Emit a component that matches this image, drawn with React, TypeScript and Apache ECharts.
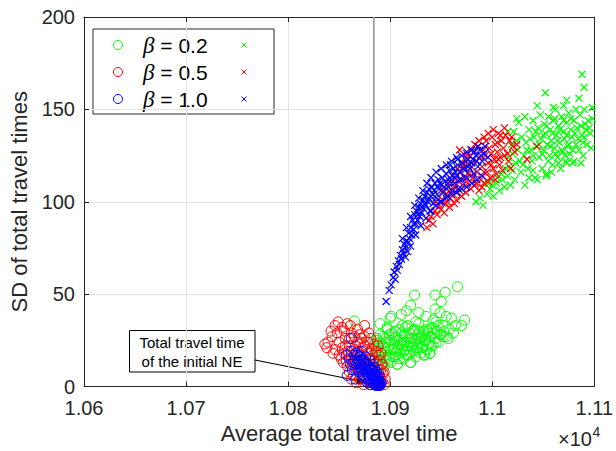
import React, { useEffect, useRef } from 'react';
import * as echarts from 'echarts';

const X_MIN = 10600;
const X_MAX = 11100;
const X_STEP = 100;
const Y_MIN = 0;
const Y_MAX = 200;
const Y_STEP = 50;
const NE_TIME = 10884;

const betaLabels = ['0.2', '0.5', '1.0'];
const betaColors = ['#00ff00', '#ff0000', '#0000ff'];

const xTitle = 'Average total travel time';
const yTitle = 'SD of total travel times';
const noteLines = ['Total travel time', 'of the initial NE'];

type P = [number, number];

// circles (o) for each beta
const greenCircles: P[] = [
  [10886,18],[10887,25],[10888,14],[10889,21],[10890,28],[10891,16],[10892,23],[10893,12],[10894,19],[10895,26],
  [10896,15],[10897,31],[10898,21],[10899,17],[10900,25],[10901,13],[10902,29],[10903,20],[10904,23],[10905,16],
  [10906,27],[10907,12],[10908,21],[10909,31],[10910,18],[10911,25],[10912,22],[10913,15],[10914,28],[10915,20],
  [10916,24],[10917,33],[10918,17],[10919,26],[10920,13],[10921,22],[10922,30],[10923,19],[10924,25],[10925,16],
  [10926,28],[10927,21],[10928,34],[10929,24],[10930,18],[10931,27],[10932,22],[10933,30],[10934,17],[10935,25],
  [10936,20],[10937,29],[10938,23],[10939,18],[10940,27],[10941,32],[10942,22],[10944,26],[10946,30],[10948,24],
  [10950,28],[10952,33],[10955,27],[10958,31],
  [10966,54],[10954,51],[10944,49.5],[10950,46],[10924,49.5],[10916,41],[10928,40],[10911,39],[10944,42],[10955,38],
  [10973,36],[10964,33],[10952,27],[10962,29],[10900,37],[10897,32],[10939,18],[10933,17],[10887,26],[10907,12],
  [10894,11],[10920,13],[10865,35.5],[10890,34],[10960,37],[10970,33],[10945,35],[10935,38],[10949,40],[10920,44],
  [10901,38],[10891,12],[10937,30],[10930,26],
  [10885,22],[10888,19],[10890,24],[10892,18],[10893,27],[10895,21],[10897,24],[10898,14],[10899,28],[10901,20],
  [10903,16],[10904,26],[10905,30],[10906,19],[10908,25],[10909,15],[10910,23],[10911,29],[10913,19],[10914,24],
  [10915,32],[10916,17],[10917,22],[10919,29],[10920,19],[10921,26],[10923,23],[10924,31],[10926,21],[10927,26],
  [10929,30],[10931,21],[10932,28],[10934,25],[10936,31],[10938,27],[10940,22],[10943,29],[10945,24],[10947,33],
  [10949,28],[10953,30],[10957,26],[10942,36],[10925,35],[10912,33]
];

const redCircles: P[] = [
  [10846,33],[10839,24],[10836,23],[10853,32],[10848,29],[10858,34],[10868,31],[10875,27],[10846,20],[10853,21],
  [10852,15],[10858,11],[10862,17],[10868,24],[10875,22],[10875,33],[10843,27],[10856,26],[10862,29],[10850,24],
  [10865,20],[10870,28],[10860,22],[10866,13],[10855,18],[10871,17],[10878,24],[10882,20],[10880,15],[10860,8],
  [10864,6],[10870,4],[10873,9],[10876,3],[10879,6],[10882,10],[10884,14],[10886,8],[10888,12],[10890,5],
  [10891,9],[10892,3],[10893,7],[10894,1],[10889,17],[10885,4],[10877,12],[10872,14],[10868,10],[10883,2],
  [10887,1],[10880,1],[10874,1],[10867,2],[10863,12],[10886,19],[10890,14],[10878,18],[10873,21],[10869,19],
  [10881,26],[10884,23],[10857,14],[10891,2],[10895,4],[10888,22],
  [10842,30],[10849,35],[10855,30],[10861,33],[10865,27],[10871,24],[10838,21],[10844,18],[10850,17],[10856,22],
  [10860,26],[10866,22],[10872,26],[10877,20],[10879,29],[10883,17],[10886,13],[10889,9],[10892,12],[10894,8],
  [10891,18],[10888,6],[10885,1.5],[10878,8],[10874,5],[10870,8],[10866,16],[10862,4],[10859,19],[10854,13]
];

const blueCircles: P[] = [
  [10862,26],[10858,6],[10857,17],[10860,15],[10862,19],[10864,13],[10865,17],[10866,10],[10867,18],[10868,14],
  [10869,8],[10870,16],[10871,12],[10872,19],[10873,6],[10874,14],[10875,10],[10876,16],[10877,4],[10878,12],
  [10879,8],[10880,14],[10880,3],[10881,10],[10882,6],[10883,12],[10883,2],[10884,8],[10884,4],[10885,10],
  [10885,1],[10886,6],[10886,3],[10887,8],[10887,1],[10888,4],[10888,2],[10889,6],[10889,0.5],[10890,3],
  [10890,1],[10886,0.5],[10888,0.5],[10887,5],[10885,7],[10882,9],[10879,11],[10876,13],[10873,15],[10871,16],
  [10868,17],[10875,5],[10878,2],[10881,1],[10883,5],[10889,3],[10891,2],[10863,9],[10866,4],[10870,11],
  [10870,14],[10872,10],[10874,12],[10876,8],[10878,6],[10880,9],[10882,4],[10884,2],[10886,1.5],[10887,3],
  [10889,1.5],[10890,0.5],[10884,6],[10881,7],[10879,4],[10877,9],[10875,13],[10873,11],[10871,9],[10869,13],
  [10867,12],[10865,14],[10883,9],[10885,4],[10861,12]
];

// crosses (x) for each beta
const greenCrosses: P[] = [
  [10984,100],[10988,102],[10991,98],[10995,104],[10998,107],[11001,103],[11004,110],[11007,106],[11010,112],[11012,108],
  [11015,114],[11018,109],[11020,117],[11022,112],
  [11016,124],[11019,131],[11021,138],[11023,121],[11025,128],[11026,143],[11028,116],[11029,135],[11031,125],[11032,146],
  [11033,132],[11035,118],[11036,139],[11038,128],[11039,122],[11040,144],[11041,135],[11042,113],[11043,130],[11045,140],
  [11046,124],[11047,147],[11048,134],[11049,118],[11050,128],[11051,142],[11052,137],[11053,115],[11054,131],[11055,146],
  [11056,125],[11057,139],[11058,133],[11059,120],[11060,144],[11061,129],[11062,150],[11063,136],[11064,124],[11065,141],
  [11066,132],[11067,118],[11068,146],[11069,127],[11070,138],[11071,134],[11072,122],[11073,143],[11074,130],[11075,148],
  [11076,126],[11077,139],[11078,135],[11079,121],[11080,144],[11082,131],[11083,140],[11085,128],[11086,147],[11088,136],
  [11089,132],[11091,142],[11092,139],[11094,144],[11096,137],
  [11088,169],[11090,162],[11052,159],[11073,155],[11085,156],[11044,152],[11060,151],[11070,152],[11053,114],[11073,121],
  [11080,122],[11087,121],[11044,112],[11032,109],[11097,129],[11089,125],[11015,138],[11024,145],
  [11030,120],[11034,128],[11037,134],[11040,125],[11043,138],[11046,131],[11049,126],[11050,136],[11053,141],[11055,122],
  [11057,130],[11059,137],[11061,145],[11062,126],[11064,133],[11066,139],[11068,128],[11070,144],[11071,125],[11073,136],
  [11075,131],[11077,145],[11079,128],[11081,137],[11084,134],[11087,141],[11090,135],[11093,131],[11095,140],[11098,145],
  [11027,122],[11024,133],[11020,126],[11017,119],[11013,118],[11009,115],[11005,113],[11000,109],[10996,110],[11036,113],
  [11040,117],[11058,116],[11065,121],[11090,150],[11098,151],[11082,150]
];

const redCrosses: P[] = [
  [10936,86],[10938,90],[10940,92],[10942,88],[10944,95],[10946,93],[10948,98],[10950,96],[10951,101],[10953,99],
  [10955,104],[10956,100],[10958,106],[10959,102],[10960,110],[10962,104],[10963,108],[10964,113],[10965,101],[10967,111],
  [10968,106],[10969,116],[10970,103],[10971,109],[10972,119],[10973,113],[10974,105],[10975,122],[10976,110],[10977,116],
  [10978,125],[10979,107],[10980,119],[10981,113],[10982,127],[10983,109],[10984,122],[10985,116],[10986,130],[10987,106],
  [10988,124],[10989,112],[10990,119],[10991,128],[10992,110],[10993,125],[10994,133],[10995,116],[10996,121],[10997,129],
  [10998,113],[10999,126],[11000,135],[11001,118],[11002,123],[11003,131],[11004,115],[11005,127],[11006,137],[11007,120],
  [11008,124],[11009,133],[11010,117],[11011,129],[11013,136],[11015,126],[11017,133],[11018,118],[11020,130],[11024,131],
  [11034,123],[11044,130],[11008,136],[10968,128],[10975,126],
  [10945,100],[10952,106],[10957,110],[10961,114],[10966,118],[10970,121],[10974,124],[10979,128],[10983,131],[10987,133],
  [10992,135],[10996,137],[11001,139],[11005,132],[11012,140],[10979,114],[10984,110],[10992,116],[10999,120],[11006,123],
  [11012,125],[11016,122],[11019,135],[11022,127],[10990,108],[10996,111],[11003,112],[10963,99],[10958,97],[10953,94]
];

const blueCrosses: P[] = [
  [10896,46],[10899,52],[10901,55],[10903,59],[10904,62],[10905,58],[10906,65],[10907,63],[10908,68],[10909,66],
  [10910,71],[10911,69],[10912,74],[10913,72],[10914,77],[10915,75],[10916,79],[10917,73],[10918,83],[10919,80],
  [10920,86],[10921,82],[10922,90],[10923,85],[10924,93],[10925,88],[10926,95],[10927,90],[10928,97],[10929,92],
  [10930,99],[10931,94],[10932,101],[10933,96],[10934,103],[10935,98],[10936,105],[10937,100],[10938,107],[10939,95],
  [10940,103],[10941,108],[10942,99],[10943,106],[10944,110],[10945,102],[10946,104],[10947,112],[10948,107],[10949,100],
  [10950,109],[10951,113],[10952,105],[10954,111],[10955,115],[10956,103],[10957,108],[10958,117],[10960,112],[10961,106],
  [10962,118],[10963,110],[10965,114],[10966,120],[10967,107],[10968,116],[10970,112],[10971,121],[10973,117],[10975,113],
  [10976,123],[10978,118],[10980,121],[10982,115],[10984,125],[10986,119],[10988,128],[10990,122],[10993,130],[10996,124],
  [10959,120],[10966,123],[10983,127],
  [10912,80],[10916,86],[10920,92],[10924,98],[10928,102],[10932,106],[10936,110],[10940,113],[10945,116],[10950,118],
  [10955,120],[10960,122],[10965,124],[10970,125],[10975,127],[10980,128],[10986,130],
  [10915,70],[10920,76],[10925,82],[10930,87],[10935,91],[10940,95],[10945,98],[10950,100],[10955,102],[10960,104],
  [10965,105],[10970,107],[10975,108],[10980,110],[10985,112],[10990,114],
  [10918,78],[10923,88],[10927,93],[10931,97],[10934,99],[10938,102],[10942,104],[10946,108],[10949,110],[10953,108],
  [10957,112],[10961,114],[10964,116],[10968,112],[10972,118],[10977,120],[10981,123],[10985,122],[10989,125],[10992,126]
];

const circleSets = [greenCircles, redCircles, blueCircles];
const crossSets = [greenCrosses, redCrosses, blueCrosses];

const FONT = '"Liberation Sans", Arial, Helvetica, sans-serif';
const AXIS_COLOR = '#262626';
const GRID_COLOR = '#e2e2e2';
const CROSS = 'path://M0,0L10,10M10,0L0,10';

export default function App() {
  const ref = useRef<HTMLDivElement>(null);

  useEffect(() => {
    if (!ref.current) return;
    const chart = echarts.init(ref.current, null, { renderer: 'svg' });

    const series: any[] = [
      {
        type: 'line',
        data: [[NE_TIME, Y_MIN], [NE_TIME, Y_MAX]],
        showSymbol: false,
        silent: true,
        lineStyle: { color: '#a0a0a0', width: 1.8 },
        z: 1,
      },
    ];
    for (let i = 0; i < 3; i++) {
      series.push({
        type: 'scatter',
        name: 'o ' + betaLabels[i],
        data: circleSets[i],
        symbol: 'circle',
        symbolSize: 10,
        itemStyle: { color: 'rgba(0,0,0,0)', borderColor: betaColors[i], borderWidth: 1, opacity: 1 },
        silent: true,
      });
      series.push({
        type: 'scatter',
        name: 'x ' + betaLabels[i],
        data: crossSets[i],
        symbol: CROSS,
        symbolSize: 7,
        itemStyle: { color: 'rgba(0,0,0,0)', borderColor: betaColors[i], borderWidth: 1.2, opacity: 1 },
        silent: true,
      });
    }

    const legendChildren: any[] = [
      {
        type: 'rect',
        shape: { x: 93, y: 29, width: 181, height: 85 },
        style: { fill: '#ffffff', stroke: AXIS_COLOR, lineWidth: 1 },
      },
    ];
    betaLabels.forEach((b, i) => {
      const cy = 45 + 27 * i;
      legendChildren.push({
        type: 'circle',
        shape: { cx: 118, cy, r: 4.5 },
        style: { fill: 'none', stroke: betaColors[i], lineWidth: 1 },
      });
      legendChildren.push({
        type: 'text',
        x: 143,
        y: cy,
        style: {
          text: '{g|β} = ' + b,
          rich: { g: { fontStyle: 'italic', fontFamily: '"Liberation Serif", serif', fontSize: 23, fill: '#000' } },
          fontSize: 21,
          fontFamily: FONT,
          fill: '#000',
          align: 'left',
          verticalAlign: 'middle',
        },
      });
      legendChildren.push({
        type: 'line',
        shape: { x1: 241.5, y1: cy - 2.5, x2: 246.5, y2: cy + 2.5 },
        style: { stroke: betaColors[i], lineWidth: 1 },
      });
      legendChildren.push({
        type: 'line',
        shape: { x1: 246.5, y1: cy - 2.5, x2: 241.5, y2: cy + 2.5 },
        style: { stroke: betaColors[i], lineWidth: 1 },
      });
    });

    const tip = [367, 382.5];
    const tail = [255, 360];
    const dx = tip[0] - tail[0];
    const dy = tip[1] - tail[1];
    const len = Math.sqrt(dx * dx + dy * dy);
    const ux = dx / len;
    const uy = dy / len;
    const bx = tip[0] - 10 * ux;
    const by = tip[1] - 10 * uy;
    const arrowHead = [
      [tip[0], tip[1]],
      [bx - 3.5 * uy, by + 3.5 * ux],
      [bx + 3.5 * uy, by - 3.5 * ux],
    ];

    const option: any = {
      animation: false,
      backgroundColor: '#ffffff',
      grid: { left: 81, right: 18.4, top: 17, bottom: 64.5, containLabel: false },
      xAxis: [
        {
          type: 'value',
          min: X_MIN,
          max: X_MAX,
          interval: X_STEP,
          position: 'bottom',
          name: xTitle,
          nameLocation: 'middle',
          nameGap: 36,
          nameTextStyle: { fontSize: 22, color: AXIS_COLOR, fontFamily: FONT },
          axisLine: { show: true, onZero: false, lineStyle: { color: AXIS_COLOR, width: 1 } },
          axisTick: { show: true, inside: true, length: 5, lineStyle: { color: AXIS_COLOR } },
          axisLabel: {
            fontSize: 20,
            lineHeight: 20,
            color: AXIS_COLOR,
            fontFamily: FONT,
            margin: 11,
            formatter: (v: number) => String(Number((v / 10000).toFixed(2))),
          },
          splitLine: { show: true, lineStyle: { color: GRID_COLOR, width: 1 } },
        },
        {
          type: 'value',
          min: X_MIN,
          max: X_MAX,
          interval: X_STEP,
          position: 'top',
          axisLine: { show: true, onZero: false, lineStyle: { color: AXIS_COLOR, width: 1 } },
          axisTick: { show: true, inside: true, length: 5, lineStyle: { color: AXIS_COLOR } },
          axisLabel: { show: false },
          splitLine: { show: false },
        },
      ],
      yAxis: [
        {
          type: 'value',
          min: Y_MIN,
          max: Y_MAX,
          interval: Y_STEP,
          position: 'left',
          name: yTitle,
          nameLocation: 'middle',
          nameGap: 54,
          nameTextStyle: { fontSize: 22, color: AXIS_COLOR, fontFamily: FONT },
          axisLine: { show: true, onZero: false, lineStyle: { color: AXIS_COLOR, width: 1 } },
          axisTick: { show: true, inside: true, length: 5, lineStyle: { color: AXIS_COLOR } },
          axisLabel: { fontSize: 20, lineHeight: 18, color: AXIS_COLOR, fontFamily: FONT, margin: 9 },
          splitLine: { show: true, lineStyle: { color: GRID_COLOR, width: 1 } },
        },
        {
          type: 'value',
          min: Y_MIN,
          max: Y_MAX,
          interval: Y_STEP,
          position: 'right',
          axisLine: { show: true, onZero: false, lineStyle: { color: AXIS_COLOR, width: 1 } },
          axisTick: { show: true, inside: true, length: 5, lineStyle: { color: AXIS_COLOR } },
          axisLabel: { show: false },
          splitLine: { show: false },
        },
      ],
      series,
      graphic: [
        { type: 'group', z: 100, children: legendChildren },
        {
          type: 'group',
          z: 100,
          children: [
            {
              type: 'rect',
              shape: { x: 129.5, y: 330.5, width: 125.5, height: 41.5 },
              style: { fill: '#ffffff', stroke: '#000', lineWidth: 1 },
            },
            {
              type: 'text',
              x: 192,
              y: 342,
              style: { text: noteLines[0], fontSize: 15, fontFamily: FONT, fill: '#000', align: 'center', verticalAlign: 'middle' },
            },
            {
              type: 'text',
              x: 192,
              y: 361.5,
              style: { text: noteLines[1], fontSize: 15, fontFamily: FONT, fill: '#000', align: 'center', verticalAlign: 'middle' },
            },
            {
              type: 'line',
              shape: { x1: tail[0], y1: tail[1], x2: bx, y2: by },
              style: { stroke: '#000', lineWidth: 1.2 },
            },
            {
              type: 'polygon',
              shape: { points: arrowHead },
              style: { fill: '#000', stroke: '#000', lineWidth: 0.5 },
            },
          ],
        },
        {
          type: 'text',
          x: 592,
          y: 439,
          z: 100,
          style: { text: '×10', fontSize: 20, fontFamily: FONT, fill: AXIS_COLOR, align: 'right', verticalAlign: 'middle' },
        },
        {
          type: 'text',
          x: 592.5,
          y: 432,
          z: 100,
          style: { text: '4', fontSize: 14, fontFamily: FONT, fill: AXIS_COLOR, align: 'left', verticalAlign: 'middle' },
        },
      ],
    };

    chart.setOption(option);
    return () => chart.dispose();
  }, []);

  return (
    <div
      ref={ref}
      style={{ position: 'fixed', left: 0, top: 0, width: 616, height: 451, background: '#fff' }}
    />
  );
}
